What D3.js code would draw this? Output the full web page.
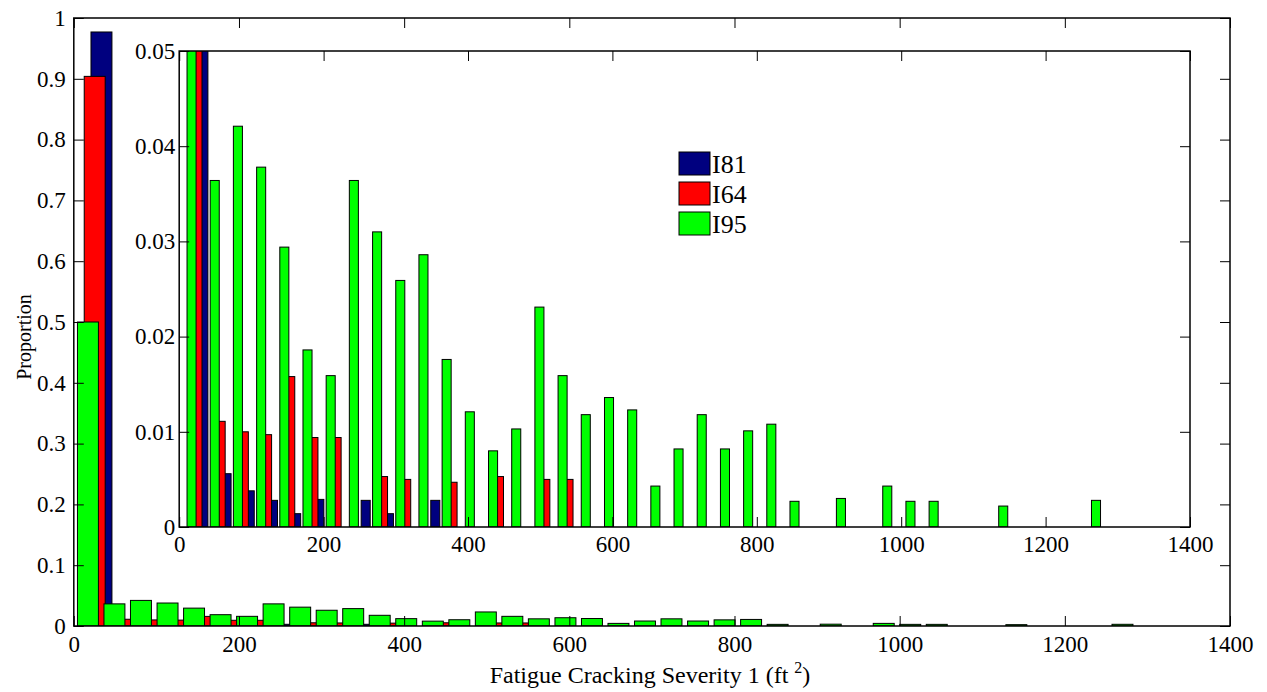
<!DOCTYPE html>
<html>
<head>
<meta charset="utf-8">
<script src="https://cdn.jsdelivr.net/npm/d3@7"></script>
<style>
  body { margin: 0; background: #fff; }
  svg { display: block; font-family: 'Liberation Serif', 'Times New Roman', serif; }
  svg text { font-family: 'Liberation Serif', 'Times New Roman', serif; }
</style>
</head>
<body>
<svg class="chart"></svg>
<script>
const width = 1267
const height = 692

// bin centres (ft^2)
const centers = [
  25.3, 57.4, 89.5, 121.7, 153.8, 185.9, 218.0, 250.1, 282.3, 314.4,
  346.5, 378.6, 410.7, 442.9, 475.0, 507.1, 539.2, 571.3, 603.5, 635.6,
  667.7, 699.8, 731.9, 764.1, 796.2, 828.3, 860.4, 892.5, 924.7, 956.8,
  988.9, 1021.0, 1053.1, 1085.3, 1117.4, 1149.5, 1181.6, 1213.7, 1245.9, 1278.0,
  1310.1, 1342.2, 1374.4
]
const binWidth = 32.12

const i81 = [
  0.977, 0.0056, 0.0038, 0.0028, 0.0014, 0.0029, 0, 0.0028, 0.0014, 0,
  0.0028, 0, 0, 0, 0, 0, 0, 0, 0, 0,
  0, 0, 0, 0, 0, 0, 0, 0, 0, 0,
  0, 0, 0, 0, 0, 0, 0, 0, 0, 0,
  0, 0, 0
]
const i64 = [
  0.904, 0.0111, 0.0100, 0.0097, 0.0158, 0.0094, 0.0094, 0, 0.0053, 0.0050,
  0, 0.0047, 0, 0.0053, 0, 0.0050, 0.0050, 0, 0, 0,
  0, 0, 0, 0, 0, 0, 0, 0, 0, 0,
  0, 0, 0, 0, 0, 0, 0, 0, 0, 0,
  0, 0, 0
]
const i95 = [
  0.5, 0.0364, 0.0421, 0.0378, 0.0294, 0.0186, 0.0159, 0.0364, 0.0310, 0.0259,
  0.0286, 0.0176, 0.0121, 0.0080, 0.0103, 0.0231, 0.0159, 0.0118, 0.0136, 0.0123,
  0.0043, 0.0082, 0.0118, 0.0082, 0.0101, 0.0108, 0.0027, 0, 0.0030, 0,
  0.0043, 0.0027, 0.0027, 0, 0, 0.0022, 0, 0, 0, 0.0028,
  0, 0, 0
]

const seriesNames = ['I81', 'I64', 'I95']
const seriesColors = ['#00007f', '#ff0000', '#00ff00']
const seriesValues = [i81, i64, i95]
// position in group: I95 left, I64 middle, I81 right
const seriesSlot = [1, 0, -1]

const mainXTicks = [0, 200, 400, 600, 800, 1000, 1200, 1400]
const mainYTicks = [0, 0.1, 0.2, 0.3, 0.4, 0.5, 0.6, 0.7, 0.8, 0.9, 1]
const insetXTicks = [0, 200, 400, 600, 800, 1000, 1200, 1400]
const insetYTicks = [0, 0.01, 0.02, 0.03, 0.04, 0.05]

const main = { left: 73.8, right: 1230, top: 18, bottom: 626, barFrac: 0.79, padX: 10, padY: 8 }
const inset = { left: 179.2, right: 1190, top: 51, bottom: 527, barFrac: 0.39, padX: 9, padY: 4 }
const slotFrac = 0.255
const serif = "'Liberation Serif', 'Times New Roman', serif"

const svg = d3.select('.chart').attr('width', width).attr('height', height)
  .attr('viewBox', [0, 0, width, height])

const fmt = d => (d === 0 ? '0' : String(d))

function drawPanel(box, yMax, xTicks, yTicks, id, fontSize) {
  const x = d3.scaleLinear().domain([0, 1400]).range([box.left, box.right])
  const y = d3.scaleLinear().domain([0, yMax]).range([box.bottom, box.top])
  const g = svg.append('g')

  g.append('rect')
    .attr('x', box.left).attr('y', box.top)
    .attr('width', box.right - box.left).attr('height', box.bottom - box.top)
    .attr('fill', '#fff')

  g.append('clipPath').attr('id', id)
    .append('rect')
    .attr('x', box.left).attr('y', box.top)
    .attr('width', box.right - box.left).attr('height', box.bottom - box.top)

  const barW = binWidth * box.barFrac
  const bars = g.append('g').attr('clip-path', `url(#${id})`)
  // blue first, then red, then green on top
  ;[0, 1, 2].forEach(k => {
    const off = seriesSlot[k] * binWidth * slotFrac
    bars.append('g')
      .selectAll('rect')
      .data(centers.map((c, i) => ({ c, v: seriesValues[k][i] })).filter(d => d.v > 0))
      .join('rect')
      .attr('x', d => x(d.c + off - barW / 2))
      .attr('width', d => x(d.c + off + barW / 2) - x(d.c + off - barW / 2))
      .attr('y', d => y(d.v))
      .attr('height', d => y(0) - y(d.v))
      .attr('fill', seriesColors[k])
      .attr('stroke', '#000')
      .attr('stroke-width', 1)
  })

  const styleAxis = a => a
    .attr('font-family', serif)
    .attr('font-size', fontSize)
    .call(s => s.select('.domain').remove())
    .call(s => s.selectAll('line').attr('stroke', '#000'))
    .call(s => s.selectAll('text').attr('fill', '#000'))

  g.append('g').attr('transform', `translate(0,${box.bottom})`)
    .call(d3.axisBottom(x).tickValues(xTicks).tickFormat(fmt).tickSizeInner(-10).tickSizeOuter(0).tickPadding(box.padX))
    .call(styleAxis)
  g.append('g').attr('transform', `translate(0,${box.top})`)
    .call(d3.axisTop(x).tickValues(xTicks).tickFormat('').tickSizeInner(-10).tickSizeOuter(0))
    .call(styleAxis)
  g.append('g').attr('transform', `translate(${box.left},0)`)
    .call(d3.axisLeft(y).tickValues(yTicks).tickFormat(fmt).tickSizeInner(-10).tickSizeOuter(0).tickPadding(box.padY))
    .call(styleAxis)
  g.append('g').attr('transform', `translate(${box.right},0)`)
    .call(d3.axisRight(y).tickValues(yTicks).tickFormat('').tickSizeInner(-10).tickSizeOuter(0))
    .call(styleAxis)

  g.append('rect')
    .attr('x', box.left).attr('y', box.top)
    .attr('width', box.right - box.left).attr('height', box.bottom - box.top)
    .attr('fill', 'none').attr('stroke', '#000').attr('stroke-width', 1.5)

  return g
}

drawPanel(main, 1, mainXTicks, mainYTicks, 'clipMain', 23)
drawPanel(inset, 0.05, insetXTicks, insetYTicks, 'clipInset', 23)

// axis labels
svg.append('text')
  .attr('transform', 'translate(31,337) rotate(-90)')
  .attr('text-anchor', 'middle')
  .attr('font-size', 20)
  .text('Proportion')

const xl = svg.append('text')
  .attr('x', 650).attr('y', 683)
  .attr('text-anchor', 'middle')
  .attr('font-size', 24)
xl.append('tspan').text('Fatigue Cracking Severity 1 (ft ')
xl.append('tspan').attr('font-size', 16).attr('dy', -10).text('2')
xl.append('tspan').attr('dy', 10).text(')')

// legend
const legend = svg.append('g').attr('transform', 'translate(679,152)')
;[0, 1, 2].forEach(k => {
  const row = legend.append('g').attr('transform', `translate(0,${k * 30})`)
  row.append('rect').attr('width', 31).attr('height', 23)
    .attr('fill', seriesColors[k]).attr('stroke', '#000').attr('stroke-width', 1)
  row.append('text').attr('x', 33).attr('y', 20.5)
    .attr('font-size', 26).text(seriesNames[k])
})
</script>
</body>
</html>
